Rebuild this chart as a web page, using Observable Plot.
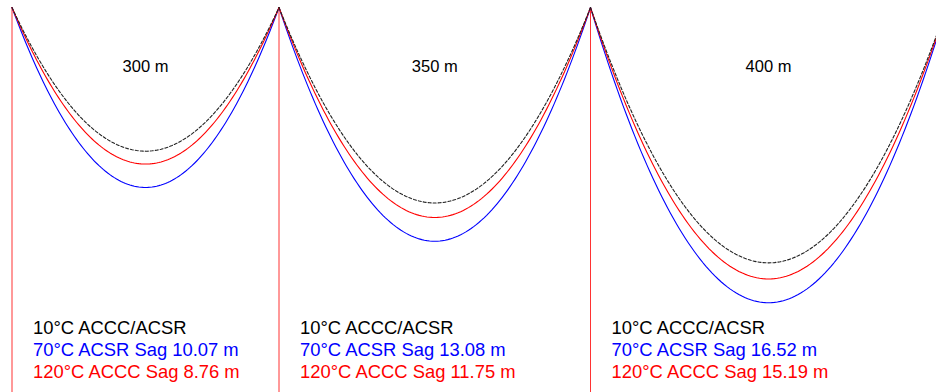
<!DOCTYPE html>
<html>
<head>
<meta charset="utf-8">
<script src="https://cdn.jsdelivr.net/npm/d3@7"></script>
<script src="https://cdn.jsdelivr.net/npm/@observablehq/plot@0.6"></script>
<style>
  html, body { margin: 0; padding: 0; background: #fff; }
  #chart svg { display: block; }
</style>
</head>
<body>
<div id="chart"></div>
<script>
// ---- data ----
const spans = [300, 350, 400];               // span lengths (m)
const spanLabels = ["300 m", "350 m", "400 m"];
const sag10 = [8.04, 10.94, 14.29];          // 10°C ACCC/ACSR (dashed black)
const sag70 = [10.07, 13.08, 16.52];         // 70°C ACSR (blue)
const sag120 = [8.76, 11.75, 15.19];         // 120°C ACCC (red)
const line1 = ["10°C ACCC/ACSR", "10°C ACCC/ACSR", "10°C ACCC/ACSR"];
const line2 = ["70°C ACSR Sag 10.07 m", "70°C ACSR Sag 13.08 m", "70°C ACSR Sag 16.52 m"];
const line3 = ["120°C ACCC Sag 8.76 m", "120°C ACCC Sag 11.75 m", "120°C ACCC Sag 15.19 m"];

// ---- derived tables ----
const towers = [0];
spans.forEach(s => towers.push(towers[towers.length - 1] + s));
const spanTable = spans.map((s, i) => ({
  start: towers[i], mid: towers[i] + s / 2, label: spanLabels[i],
  l1: line1[i], l2: line2[i], l3: line3[i]
}));
function curve(sags, series) {
  const pts = [];
  spans.forEach((L, i) => {
    const n = 120;
    for (let k = 0; k <= n; k++) {
      const t = k / n;
      pts.push({ series, span: i, x: towers[i] + t * L, y: 4 * sags[i] * t * (1 - t) });
    }
  });
  return pts;
}
const c70 = curve(sag70, "70");
const c120 = curve(sag120, "120");
const c10 = curve(sag10, "10");

const W = 936, H = 392;
const pxPerM_x = (590 - 11.5) / 650;
const topPx = 7, pxPerM_y = 17.87;
const xDomain = [-11.5 / pxPerM_x, (W - 11.5) / pxPerM_x];
const yDomain = [(H - topPx) / pxPerM_y, -topPx / pxPerM_y];

const font = "Arial, 'Liberation Sans', sans-serif";
const fsTop = 16.5, fsBot = 18.4;

const chart = Plot.plot({
  width: W, height: H,
  marginTop: 0, marginBottom: 0, marginLeft: 0, marginRight: 0,
  style: { fontFamily: font, background: "#fff" },
  x: { domain: xDomain, axis: null },
  y: { domain: yDomain, axis: null },
  marks: [
    Plot.ruleX(towers, { y1: 0, y2: yDomain[0], stroke: "#ff3333", strokeWidth: 1 }),
    Plot.line(c70, { x: "x", y: "y", z: "span", stroke: "#0000ff", strokeWidth: 1.1 }),
    Plot.line(c120, { x: "x", y: "y", z: "span", stroke: "#ff0000", strokeWidth: 1.1 }),
    Plot.line(c10, { x: "x", y: "y", z: "span", stroke: "#222", strokeWidth: 1.1, strokeDasharray: "3,2" }),
    Plot.text(spanTable, { x: "mid", text: "label", frameAnchor: "top", lineAnchor: "middle", dy: 71.5 - 0.32 * fsTop, fontSize: fsTop, fill: "#000" }),
    Plot.text(spanTable, { x: "start", text: "l1", frameAnchor: "bottom", lineAnchor: "middle", dx: 21, dy: 333 - 0.32 * fsBot - H, textAnchor: "start", fontSize: fsBot, fill: "#000" }),
    Plot.text(spanTable, { x: "start", text: "l2", frameAnchor: "bottom", lineAnchor: "middle", dx: 21, dy: 355 - 0.32 * fsBot - H, textAnchor: "start", fontSize: fsBot, fill: "#0000ff" }),
    Plot.text(spanTable, { x: "start", text: "l3", frameAnchor: "bottom", lineAnchor: "middle", dx: 21, dy: 377 - 0.32 * fsBot - H, textAnchor: "start", fontSize: fsBot, fill: "#ff0000" })
  ]
});
document.getElementById("chart").appendChild(chart);
</script>
</body>
</html>
